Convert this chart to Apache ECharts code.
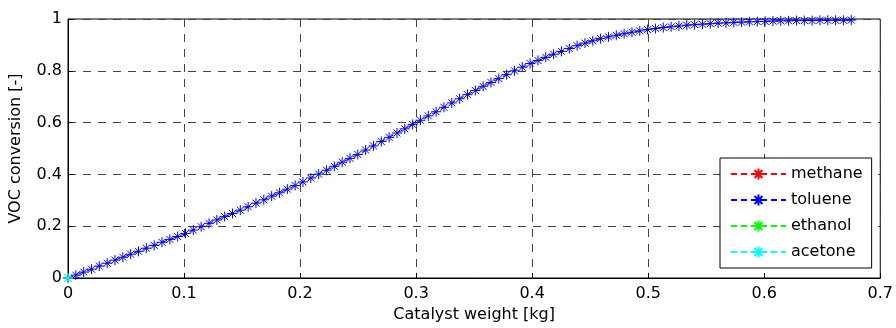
<!DOCTYPE html>
<html>
<head>
<meta charset="utf-8">
<script src="https://cdn.jsdelivr.net/npm/echarts@6/dist/echarts.min.js"></script>
<style>
  html, body { margin: 0; padding: 0; background: #fff; }
  #chart { width: 896px; height: 328px; }
</style>
</head>
<body>
<div id="chart"></div>
<script>
// catalyst weight sampling (kg) and read-off conversions
var weightStep = 0.00675;
var tolueneConversion = [
    0, 0.011, 0.023, 0.034, 0.046, 0.057, 0.069, 0.080, 0.092, 0.103,
    0.115, 0.126, 0.138, 0.149, 0.160, 0.172, 0.185, 0.198, 0.211, 0.224,
    0.237, 0.249, 0.262, 0.275, 0.289, 0.302, 0.316, 0.329, 0.343, 0.357,
    0.371, 0.386, 0.401, 0.416, 0.431, 0.447, 0.462, 0.477, 0.494, 0.510,
    0.527, 0.543, 0.560, 0.576, 0.593, 0.609, 0.626, 0.642, 0.659, 0.676,
    0.692, 0.708, 0.724, 0.740, 0.755, 0.770, 0.785, 0.800, 0.814, 0.828,
    0.840, 0.852, 0.864, 0.875, 0.886, 0.897, 0.907, 0.916, 0.924, 0.931,
    0.937, 0.943, 0.949, 0.954, 0.959, 0.963, 0.967, 0.970, 0.973, 0.976,
    0.978, 0.980, 0.982, 0.984, 0.985, 0.987, 0.988, 0.989, 0.990, 0.991,
    0.992, 0.993, 0.993, 0.994, 0.994, 0.994, 0.995, 0.995, 0.995, 0.995,
    0.996
];
var methaneData = [[0, 0]];
var ethanolData = [[0, 0]];
var acetoneData = [[0, 0]];
var xTicks = [0, 0.1, 0.2, 0.3, 0.4, 0.5, 0.6, 0.7];
var yTicks = [0, 0.2, 0.4, 0.6, 0.8, 1];

var toluenePoints = tolueneConversion.map(function (v, i) {
    return [+(i * weightStep).toFixed(5), v];
});

var starPath = 'path://M5 0L5 10M0 5L10 5M1.5 1.5L8.5 8.5M8.5 1.5L1.5 8.5';
var font = 'DejaVu Sans, Arial, sans-serif';

function vocSeries(name, color, data) {
    return {
        name: name,
        type: 'line',
        data: data,
        symbol: starPath,
        symbolSize: 10,
        showAllSymbol: true,
        itemStyle: {color: color, borderColor: color, borderWidth: 1},
        lineStyle: {color: color, width: 1, type: [6, 4]},
        emphasis: {disabled: true}
    };
}

var chartDom = document.getElementById('chart');
var myChart = echarts.init(chartDom);
var option = {
    animation: false,
    textStyle: {fontFamily: font},
    grid: {
        left: 68, right: 15, top: 19, bottom: 50,
        show: true, borderColor: '#000', borderWidth: 1
    },
    legend: {
        orient: 'vertical',
        left: 720, top: 158,
        padding: [8, 9, 8, 10],
        itemWidth: 55, itemHeight: 14, itemGap: 10,
        backgroundColor: '#fff',
        borderColor: '#000', borderWidth: 1,
        textStyle: {fontFamily: font, fontSize: 16, color: '#000'},
        data: ['methane', 'toluene', 'ethanol', 'acetone']
    },
    xAxis: {
        type: 'value',
        min: xTicks[0], max: xTicks[xTicks.length - 1], interval: 0.1,
        name: 'Catalyst weight [kg]',
        nameLocation: 'middle', nameGap: 29,
        nameTextStyle: {fontFamily: font, fontSize: 16, color: '#000'},
        axisLine: {lineStyle: {color: '#000', width: 1}},
        axisTick: {inside: true, length: 5, lineStyle: {color: '#000'}},
        axisLabel: {fontFamily: font, fontSize: 16, color: '#000', margin: 8},
        splitLine: {lineStyle: {color: '#444', width: 1, type: [8, 7]}}
    },
    yAxis: {
        type: 'value',
        min: yTicks[0], max: yTicks[yTicks.length - 1], interval: 0.2,
        name: 'VOC conversion [-]',
        nameLocation: 'middle', nameGap: 44,
        nameTextStyle: {fontFamily: font, fontSize: 16, color: '#000'},
        axisLine: {show: true, lineStyle: {color: '#000', width: 1}},
        axisTick: {show: true, inside: true, length: 5, lineStyle: {color: '#000'}},
        axisLabel: {fontFamily: font, fontSize: 16, color: '#000', margin: 6},
        splitLine: {lineStyle: {color: '#444', width: 1, type: [8, 7]}}
    },
    series: [
        vocSeries('methane', '#ff0000', methaneData),
        vocSeries('toluene', '#0000ff', toluenePoints),
        vocSeries('ethanol', '#00ff00', ethanolData),
        vocSeries('acetone', '#00ffff', acetoneData)
    ]
};
option && myChart.setOption(option);
</script>
</body>
</html>
